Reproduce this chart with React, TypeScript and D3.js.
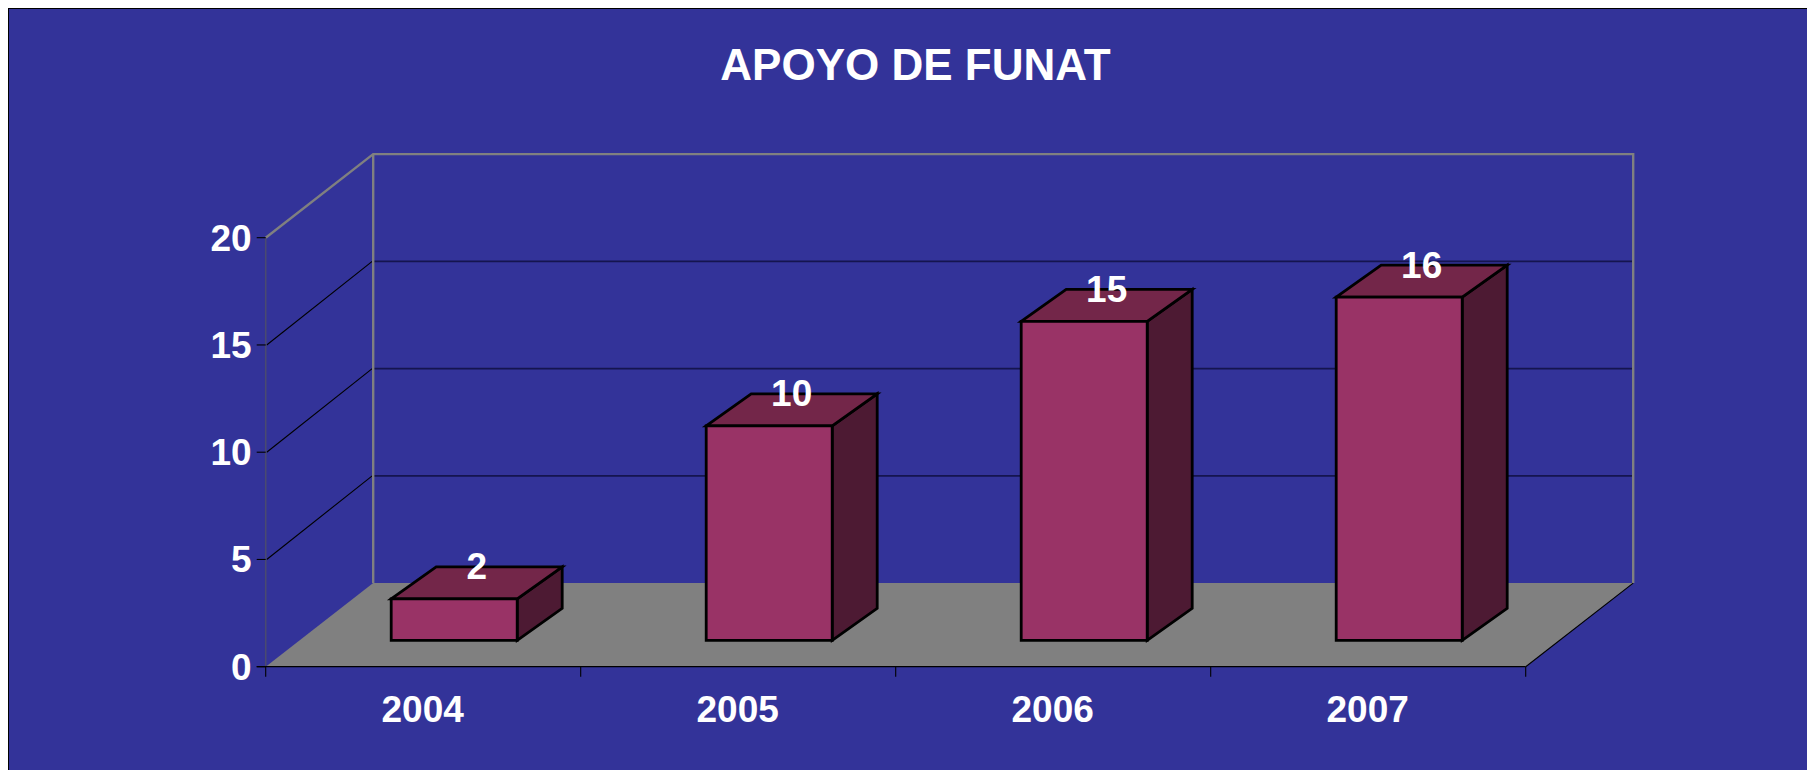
import React from "react";
import * as d3 from "d3";

const title = "APOYO DE FUNAT";
const categories = ["2004", "2005", "2006", "2007"];
const seriesValues = [1.93, 10, 14.87, 16];
const yTicks = [0, 5, 10, 15, 20];

const W = 1807, H = 770;
const FONT = "'Liberation Sans', Arial, sans-serif";
const BG = "#333399", FRONT = "#993366", TOP = "#732649", SIDE = "#4D1A33", GREY = "#808080";

const x0 = 265.7, x1 = 1525.7;
const depthX = 107.5, depthY = -83.6;
const x = d3.scaleBand<string>().domain(categories).range([x0, x1]);
const y = d3.scaleLinear().domain([0, 20]).range([666.7, 237.7]);
const barW = 126, barDX = 45, barDY = -32;
const barShift = 31, baseLift = 26.4;

const poly = (pts: number[][]) => (d3.line()(pts as [number, number][]) as string) + "Z";

export default function App() {
  const yBack = (v: number) => y(v) + depthY;
  return (
    <svg width={W} height={H} style={{ position: "absolute", left: 0, top: 0, display: "block", background: "#fff" }} fontFamily={FONT} fontWeight="bold">
      <rect x={8.5} y={8.5} width={W} height={H} fill={BG} stroke="#000" strokeWidth={1} />
      <text x={915.5} y={79.5} textAnchor="middle" fontSize={44} fill="#fff">{title}</text>

      {/* floor */}
      <path d={poly([[x0, y(0)], [x1, y(0)], [x1 + depthX, yBack(0)], [x0 + depthX, yBack(0)]])} fill={GREY} />

      {/* grid lines on both walls */}
      {yTicks.filter((t) => t > 0 && t < 20).map((t) => (
        <g key={t}>
          <line x1={x0 + 1} y1={y(t)} x2={x0 + depthX - 1} y2={yBack(t)} stroke="#000" strokeWidth={1.1} />
          <line x1={x0 + depthX} y1={yBack(t)} x2={x1 + depthX} y2={yBack(t)} stroke="#15154f" strokeWidth={1.6} />
        </g>
      ))}

      {/* walls */}
      <path d={`M${x0},${y(20)}L${x0 + depthX},${yBack(20)}H${x1 + depthX}V${yBack(0)}`} fill="none" stroke={GREY} strokeWidth={2.4} />
      <line x1={x0 + depthX} y1={yBack(20)} x2={x0 + depthX} y2={yBack(0)} stroke={GREY} strokeWidth={2.4} />
      <line x1={x0} y1={y(20)} x2={x0} y2={y(0)} stroke="#4a4a70" strokeWidth={1.6} />

      {/* axes */}
      <line x1={x1} y1={y(0)} x2={x1 + depthX} y2={yBack(0)} stroke="#000" strokeWidth={1.1} />
      <line x1={x0 - 9} y1={y(0)} x2={x1} y2={y(0)} stroke="#000" strokeWidth={1.2} />
      {yTicks.map((t) => (
        <g key={t}>
          <line x1={x0 - 9} y1={y(t)} x2={x0} y2={y(t)} stroke="#000" strokeWidth={1.1} />
          <text x={x0 - 14} y={y(t) + 13} textAnchor="end" fontSize={37} fill="#fff">{t}</text>
        </g>
      ))}
      {[x0, ...categories.map((c) => (x(c) as number) + x.bandwidth())].map((tx, i) => (
        <line key={i} x1={tx} y1={y(0)} x2={tx} y2={y(0) + 10} stroke="#000" strokeWidth={1.1} />
      ))}
      {categories.map((c) => (
        <text key={c} x={(x(c) as number) + x.bandwidth() / 2 - 0.5} y={722} textAnchor="middle" fontSize={37} fill="#fff">{c}</text>
      ))}

      {/* bars */}
      {categories.map((c, i) => {
        const v = seriesValues[i];
        const l = (x(c) as number) + x.bandwidth() / 2 + barShift - barW / 2;
        const r = l + barW;
        const b = y(0) - baseLift;
        const t = b - (y(0) - y(v));
        return (
          <g key={c} stroke="#000" strokeWidth={2.8} strokeLinejoin="miter">
            <path d={poly([[r, b], [r + barDX, b + barDY], [r + barDX, t + barDY], [r, t]])} fill={SIDE} />
            <path d={poly([[l, t], [r, t], [r + barDX, t + barDY], [l + barDX, t + barDY]])} fill={TOP} />
            <path d={poly([[l, b], [r, b], [r, t], [l, t]])} fill={FRONT} />
            <text x={(l + r) / 2 + barDX / 2} y={t + barDY + 12.5} textAnchor="middle" fontSize={37} fill="#fff" stroke="none">{Math.round(v)}</text>
          </g>
        );
      })}
    </svg>
  );
}
